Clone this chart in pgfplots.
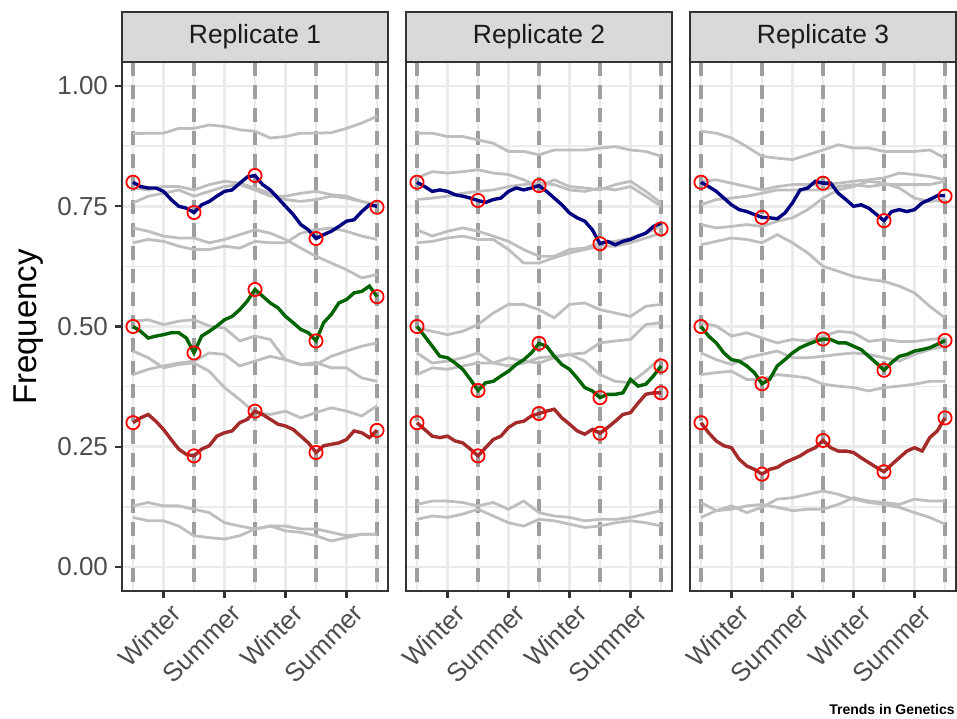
\documentclass[border=0pt]{standalone}
\usepackage{pgfplots}
\usepackage{pgfplotstable}
\pgfplotsset{compat=1.18}
\usepackage{fontspec}
\setmainfont{Liberation Sans}

\definecolor{gridc}{HTML}{EBEBEB}
\definecolor{frame}{HTML}{333333}
\definecolor{stripfill}{HTML}{D9D9D9}
\definecolor{stripc}{HTML}{1A1A1A}
\definecolor{tickc}{HTML}{4D4D4D}
\definecolor{greyline}{HTML}{BEBEBE}
\definecolor{dashc}{HTML}{9E9E9E}
\definecolor{navyc}{HTML}{000080}
\definecolor{dgreen}{HTML}{006400}
\definecolor{brownc}{HTML}{A52A2A}
\definecolor{redc}{HTML}{FF0000}

% ---------- Replicate 1 ----------
\pgfplotstableread{
name c0 c1 c2 c3 c4 c5 c6 c7 c8 c9 c10 c11 c12 c13 c14 c15 c16
x 0 0.25 0.5 0.75 1 1.25 1.5 1.75 2 2.25 2.5 2.75 3 3.25 3.5 3.75 4
g1 0.901 0.902 0.902 0.912 0.912 0.919 0.916 0.909 0.906 0.892 0.895 0.902 0.902 0.903 0.912 0.923 0.937
g2 0.788 0.784 0.791 0.791 0.784 0.795 0.802 0.798 0.788 0.777 0.764 0.760 0.764 0.771 0.767 0.760 0.753
g3 0.757 0.771 0.777 0.784 0.771 0.781 0.791 0.795 0.784 0.771 0.771 0.777 0.781 0.774 0.771 0.760 0.753
g4 0.705 0.698 0.688 0.684 0.684 0.674 0.681 0.691 0.701 0.694 0.681 0.663 0.646 0.632 0.618 0.601 0.608
g5 0.674 0.681 0.677 0.667 0.660 0.660 0.667 0.663 0.677 0.674 0.674 0.694 0.701 0.705 0.698 0.688 0.681
g6 0.511 0.514 0.504 0.511 0.514 0.501 0.497 0.470 0.480 0.473 0.431 0.421 0.425 0.414 0.414 0.393 0.386
g7 0.400 0.411 0.418 0.424 0.428 0.445 0.442 0.418 0.428 0.438 0.431 0.421 0.421 0.438 0.449 0.459 0.466
g8 0.449 0.435 0.414 0.421 0.424 0.407 0.373 0.348 0.321 0.317 0.324 0.310 0.321 0.331 0.324 0.314 0.335
g9 0.127 0.134 0.127 0.127 0.120 0.113 0.092 0.085 0.079 0.085 0.085 0.079 0.079 0.072 0.065 0.068 0.068
g10 0.103 0.096 0.096 0.085 0.065 0.061 0.058 0.065 0.079 0.085 0.075 0.072 0.065 0.054 0.061 0.068 0.068
}\rawGA
\pgfplotstabletranspose[colnames from=name]\grA{\rawGA}

\pgfplotstableread{
name c0 c1 c2 c3 c4 c5 c6 c7 c8 c9 c10 c11 c12 c13 c14 c15 c16 c17 c18 c19 c20 c21 c22 c23 c24 c25 c26 c27 c28 c29 c30 c31 c32
x 0 0.125 0.25 0.375 0.5 0.625 0.75 0.875 1 1.125 1.25 1.375 1.5 1.625 1.75 1.875 2 2.125 2.25 2.375 2.5 2.625 2.75 2.875 3 3.125 3.25 3.375 3.5 3.625 3.75 3.875 4
b 0.800 0.791 0.788 0.788 0.781 0.764 0.750 0.746 0.737 0.753 0.760 0.771 0.781 0.784 0.798 0.811 0.814 0.795 0.784 0.767 0.750 0.733 0.712 0.701 0.683 0.691 0.698 0.708 0.719 0.722 0.739 0.753 0.750
g 0.500 0.490 0.476 0.480 0.483 0.487 0.487 0.476 0.445 0.480 0.490 0.501 0.514 0.521 0.535 0.553 0.577 0.563 0.549 0.539 0.521 0.508 0.494 0.487 0.470 0.508 0.525 0.549 0.556 0.570 0.573 0.584 0.562
r 0.300 0.310 0.317 0.303 0.286 0.265 0.245 0.234 0.231 0.245 0.252 0.272 0.279 0.283 0.300 0.307 0.324 0.317 0.307 0.297 0.293 0.286 0.272 0.258 0.238 0.252 0.255 0.258 0.265 0.283 0.279 0.269 0.284
}\rawCA
\pgfplotstabletranspose[colnames from=name]\coA{\rawCA}

\pgfplotstableread{
x b g r
0 0.800 0.500 0.300
1 0.737 0.445 0.231
2 0.814 0.577 0.324
3 0.683 0.470 0.238
4 0.748 0.562 0.284
}\ptA

% ---------- Replicate 2 ----------
\pgfplotstableread{
name c0 c1 c2 c3 c4 c5 c6 c7 c8 c9 c10 c11 c12 c13 c14 c15 c16
x 0 0.25 0.5 0.75 1 1.25 1.5 1.75 2 2.25 2.5 2.75 3 3.25 3.5 3.75 4
g1 0.902 0.902 0.895 0.895 0.888 0.881 0.864 0.864 0.857 0.867 0.867 0.867 0.871 0.874 0.867 0.864 0.854
g2 0.809 0.822 0.819 0.822 0.826 0.819 0.816 0.805 0.791 0.805 0.791 0.788 0.784 0.795 0.802 0.781 0.757
g3 0.764 0.767 0.771 0.777 0.781 0.784 0.791 0.795 0.798 0.795 0.784 0.781 0.788 0.784 0.791 0.771 0.750
g4 0.701 0.688 0.698 0.705 0.698 0.688 0.677 0.660 0.646 0.646 0.660 0.663 0.674 0.677 0.684 0.694 0.708
g5 0.674 0.677 0.684 0.688 0.681 0.681 0.660 0.632 0.632 0.643 0.653 0.660 0.667 0.667 0.674 0.684 0.694
g6 0.497 0.490 0.483 0.490 0.504 0.528 0.546 0.546 0.535 0.518 0.546 0.549 0.535 0.528 0.521 0.542 0.546
g7 0.445 0.424 0.428 0.435 0.445 0.424 0.435 0.428 0.424 0.435 0.442 0.445 0.466 0.470 0.473 0.504 0.508
g8 0.400 0.414 0.411 0.418 0.424 0.424 0.418 0.424 0.435 0.438 0.442 0.428 0.400 0.386 0.383 0.407 0.435
g9 0.130 0.137 0.137 0.134 0.127 0.134 0.120 0.137 0.113 0.106 0.103 0.096 0.099 0.099 0.103 0.110 0.117
g10 0.099 0.106 0.103 0.110 0.120 0.106 0.092 0.085 0.099 0.096 0.089 0.082 0.085 0.092 0.096 0.092 0.085
}\rawGB
\pgfplotstabletranspose[colnames from=name]\grB{\rawGB}

\pgfplotstableread{
name c0 c1 c2 c3 c4 c5 c6 c7 c8 c9 c10 c11 c12 c13 c14 c15 c16 c17 c18 c19 c20 c21 c22 c23 c24 c25 c26 c27 c28 c29 c30 c31 c32
x 0 0.125 0.25 0.375 0.5 0.625 0.75 0.875 1 1.125 1.25 1.375 1.5 1.625 1.75 1.875 2 2.125 2.25 2.375 2.5 2.625 2.75 2.875 3 3.125 3.25 3.375 3.5 3.625 3.75 3.875 4
b 0.800 0.791 0.781 0.784 0.781 0.774 0.771 0.767 0.762 0.758 0.764 0.767 0.781 0.788 0.784 0.788 0.793 0.781 0.767 0.753 0.736 0.726 0.719 0.701 0.672 0.677 0.670 0.677 0.681 0.688 0.694 0.708 0.715
g 0.500 0.480 0.459 0.438 0.435 0.424 0.411 0.390 0.367 0.383 0.386 0.397 0.407 0.421 0.431 0.445 0.465 0.459 0.438 0.421 0.411 0.393 0.373 0.366 0.352 0.359 0.359 0.362 0.390 0.376 0.380 0.397 0.418
r 0.300 0.286 0.272 0.269 0.272 0.262 0.258 0.245 0.231 0.248 0.265 0.272 0.290 0.300 0.303 0.314 0.319 0.324 0.328 0.310 0.297 0.283 0.276 0.286 0.278 0.290 0.303 0.317 0.321 0.341 0.359 0.362 0.362
}\rawCB
\pgfplotstabletranspose[colnames from=name]\coB{\rawCB}

\pgfplotstableread{
x b g r
0 0.800 0.500 0.300
1 0.762 0.367 0.231
2 0.793 0.465 0.319
3 0.672 0.352 0.278
4 0.703 0.418 0.362
}\ptB

% ---------- Replicate 3 ----------
\pgfplotstableread{
name c0 c1 c2 c3 c4 c5 c6 c7 c8 c9 c10 c11 c12 c13 c14 c15 c16
x 0 0.25 0.5 0.75 1 1.25 1.5 1.75 2 2.25 2.5 2.75 3 3.25 3.5 3.75 4
g1 0.906 0.902 0.892 0.874 0.854 0.850 0.847 0.857 0.867 0.878 0.871 0.871 0.864 0.864 0.864 0.867 0.850
g2 0.802 0.805 0.798 0.791 0.784 0.791 0.795 0.795 0.795 0.798 0.802 0.805 0.809 0.819 0.816 0.812 0.805
g3 0.753 0.764 0.767 0.771 0.777 0.784 0.784 0.784 0.784 0.791 0.795 0.791 0.795 0.795 0.795 0.795 0.802
g4 0.712 0.705 0.708 0.712 0.708 0.719 0.726 0.743 0.767 0.784 0.791 0.802 0.798 0.788 0.767 0.760 0.764
g5 0.670 0.677 0.684 0.681 0.674 0.691 0.674 0.653 0.625 0.615 0.604 0.598 0.594 0.584 0.570 0.542 0.518
g6 0.508 0.501 0.480 0.487 0.476 0.466 0.473 0.470 0.480 0.490 0.487 0.469 0.473 0.469 0.469 0.473 0.476
g7 0.445 0.431 0.421 0.435 0.442 0.449 0.435 0.435 0.438 0.442 0.445 0.442 0.435 0.428 0.442 0.452 0.459
g8 0.400 0.404 0.407 0.390 0.390 0.400 0.397 0.393 0.380 0.376 0.373 0.366 0.373 0.376 0.380 0.386 0.386
g9 0.103 0.117 0.127 0.113 0.124 0.141 0.144 0.151 0.158 0.151 0.141 0.134 0.130 0.124 0.113 0.103 0.089
g10 0.134 0.117 0.120 0.127 0.130 0.124 0.117 0.120 0.120 0.130 0.144 0.137 0.134 0.130 0.141 0.137 0.137
}\rawGC
\pgfplotstabletranspose[colnames from=name]\grC{\rawGC}

\pgfplotstableread{
name c0 c1 c2 c3 c4 c5 c6 c7 c8 c9 c10 c11 c12 c13 c14 c15 c16 c17 c18 c19 c20 c21 c22 c23 c24 c25 c26 c27 c28 c29 c30 c31 c32
x 0 0.125 0.25 0.375 0.5 0.625 0.75 0.875 1 1.125 1.25 1.375 1.5 1.625 1.75 1.875 2 2.125 2.25 2.375 2.5 2.625 2.75 2.875 3 3.125 3.25 3.375 3.5 3.625 3.75 3.875 4
b 0.800 0.791 0.781 0.767 0.753 0.743 0.739 0.733 0.727 0.726 0.724 0.736 0.757 0.784 0.788 0.802 0.798 0.798 0.777 0.764 0.750 0.753 0.746 0.733 0.720 0.739 0.743 0.739 0.743 0.757 0.764 0.772 0.772
g 0.500 0.480 0.466 0.445 0.431 0.428 0.418 0.404 0.381 0.390 0.418 0.431 0.445 0.456 0.463 0.469 0.474 0.473 0.466 0.466 0.459 0.452 0.438 0.424 0.409 0.425 0.438 0.442 0.449 0.452 0.456 0.463 0.471
r 0.300 0.279 0.262 0.252 0.248 0.224 0.210 0.203 0.193 0.203 0.207 0.217 0.224 0.231 0.241 0.248 0.263 0.248 0.241 0.241 0.238 0.227 0.217 0.207 0.198 0.213 0.227 0.241 0.248 0.241 0.269 0.283 0.310
}\rawCC
\pgfplotstabletranspose[colnames from=name]\coC{\rawCC}

\pgfplotstableread{
x b g r
0 0.800 0.500 0.300
1 0.727 0.381 0.193
2 0.798 0.474 0.263
3 0.720 0.409 0.198
4 0.771 0.471 0.310
}\ptC

\pgfplotsset{
  panel/.style={
    anchor=south west, scale only axis, width=133pt, height=264.5pt,
    xmin=-0.18, xmax=4.18, ymin=-0.05, ymax=1.05,
    xtick={0.5,1.5,2.5,3.5}, xticklabels={Winter,Summer,Winter,Summer},
    minor xtick={0,1,2,3,4},
    ytick={0,0.25,0.5,0.75,1}, minor ytick={0.125,0.375,0.625,0.875},
    yticklabels={0.00,0.25,0.50,0.75,1.00},
    grid=both,
    major grid style={draw=gridc, line width=1.3pt},
    minor grid style={draw=gridc, line width=0.7pt},
    tick align=outside, tick pos=left,
    major tick length=3.5pt, minor tick length=0pt,
    tick style={draw=frame, line width=1.1pt},
    axis line style={draw=frame, line width=1.1pt},
    ticklabel style={font=\fontsize{13}{15}\selectfont, text=tickc},
    xticklabel style={rotate=45, anchor=north east, xshift=4pt},
  },
  gl/.style={draw=greyline, line width=1.4pt, no marks},
  vl/.style={draw=dashc, line width=1.7pt, dash pattern=on 7pt off 4.5pt, no marks},
  cl/.style={line width=1.7pt, no marks},
  pt/.style={only marks, mark=o, mark size=3.3pt, draw=redc, mark options={line width=0.9pt, draw=redc}},
}

\newcommand\panelbody[3]{%
  \pgfplotsinvokeforeach{0,1,2,3,4}{\addplot[vl] coordinates {(##1,1.05) (##1,-0.05)};}
  \pgfplotsinvokeforeach{g1,g2,g3,g4,g5,g6,g7,g8,g9,g10}{\addplot[gl] table[x=x,y=##1]{#1};}
  \addplot[cl, draw=navyc] table[x=x,y=b]{#2};
  \addplot[cl, draw=dgreen] table[x=x,y=g]{#2};
  \addplot[cl, draw=brownc] table[x=x,y=r]{#2};
  \addplot[pt] table[x=x,y=b]{#3};
  \addplot[pt] table[x=x,y=g]{#3};
  \addplot[pt] table[x=x,y=r]{#3};
}

\begin{document}
\begin{tikzpicture}
\useasboundingbox (0,0) rectangle (478.5pt,359pt);

\begin{axis}[panel, at={(61pt,63.5pt)}]
\panelbody{\grA}{\coA}{\ptA}
\end{axis}

\begin{axis}[panel, at={(203pt,63.5pt)}, yticklabels={}, ytick style={draw=none}]
\panelbody{\grB}{\coB}{\ptB}
\end{axis}

\begin{axis}[panel, at={(345pt,63.5pt)}, yticklabels={}, ytick style={draw=none}]
\panelbody{\grC}{\coC}{\ptC}
\end{axis}

\foreach \xa/\lab in {61/1, 203/2, 345/3}{
  \draw[fill=stripfill, draw=frame, line width=1.1pt] (\xa pt,328pt) rectangle ({\xa pt+133pt},353pt);
  \node[font=\fontsize{13.2}{15}\selectfont, text=stripc] at ({\xa pt+66.5pt},340.5pt) {Replicate \lab};
}

\node[rotate=90, font=\fontsize{16.5}{19}\selectfont] at (14.5pt,195.5pt) {Frequency};
\node[anchor=base east, font=\fontsize{7}{8}\selectfont\bfseries, inner sep=0pt] at (477.5pt,2pt) {Trends in Genetics};
\end{tikzpicture}
\end{document}
